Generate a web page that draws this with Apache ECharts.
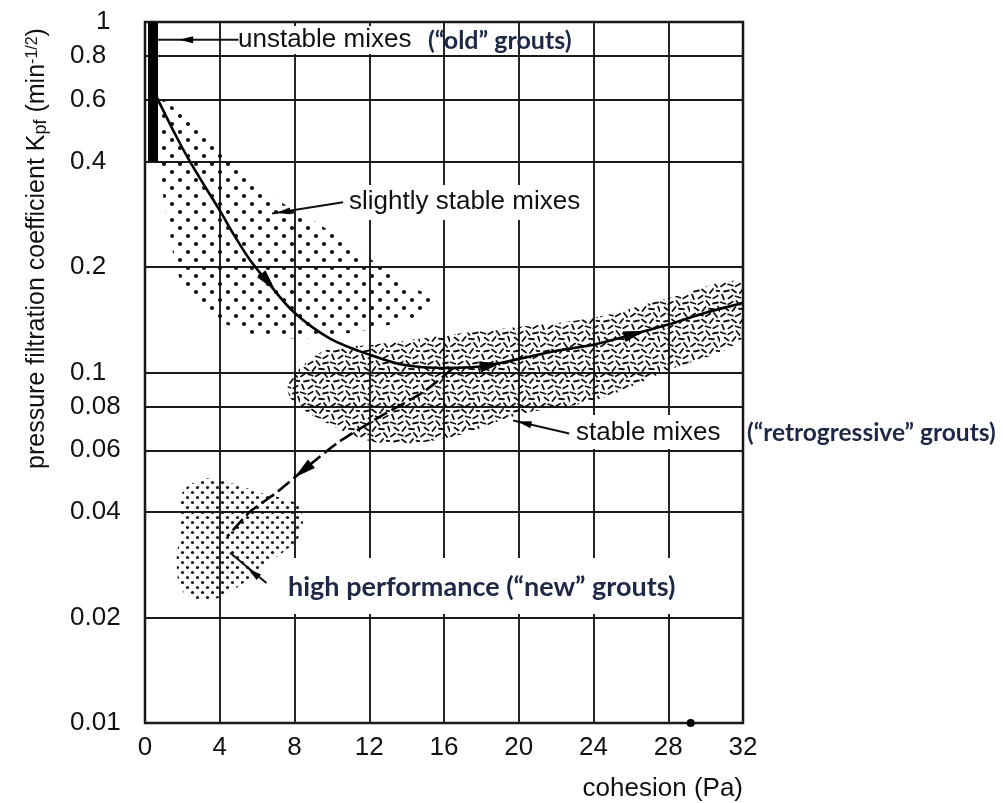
<!DOCTYPE html>
<html>
<head>
<meta charset="utf-8">
<script src="https://cdn.jsdelivr.net/npm/echarts@6/dist/echarts.min.js"></script>
<style>
html, body { margin: 0; padding: 0; background: #fff; }
#chart { width: 1003px; height: 803px; }
</style>
</head>
<body>
<div id="chart"></div>
<script>
// axis ticks
const xTicks = [0, 4, 8, 12, 16, 20, 24, 28, 32];
const yTickValues = [0.01, 0.02, 0.04, 0.06, 0.08, 0.1, 0.2, 0.4, 0.6, 0.8, 1];
const yTickLabels = ['0.01', '0.02', '0.04', '0.06', '0.08', '0.1', '0.2', '0.4', '0.6', '0.8', '1'];

// main path (solid) : unstable -> slightly stable -> stable
const mainX = [0.5, 1.6, 2.4, 3.2, 4, 4.8, 5.6, 6.6, 8, 9.9, 12.1, 13.9, 16, 17.9, 19.9, 21.9, 24, 26, 28, 30, 32];
const mainY = [0.63, 0.48, 0.40, 0.34, 0.29, 0.245, 0.21, 0.18, 0.148, 0.125, 0.112, 0.105, 0.103, 0.104, 0.109, 0.115, 0.12, 0.128, 0.137, 0.148, 0.158];

// dashed branch down to the high performance grouts
const dashX = [16.5, 14.9, 12.6, 10.3, 8.45, 7.05, 5.6, 4.4];
const dashY = [0.103, 0.088, 0.075, 0.063, 0.0525, 0.0455, 0.04, 0.034];

// unstable mixes (thick bar on the left edge)
const unstableX = [0.43, 0.43];
const unstableY = [0.4, 1];

// shaded zones, outline points
const slightX = [0.7, 2.9, 4.9, 6.9, 9.0, 12.0, 13.6, 15.4, 14.7, 11.1, 7.8, 5.1, 3.1, 1.9, 1.3, 0.8];
const slightY = [0.60, 0.49, 0.40, 0.316, 0.272, 0.212, 0.183, 0.161, 0.146, 0.130, 0.125, 0.132, 0.152, 0.183, 0.255, 0.378];
const stableX = [7.65, 8.3, 9.7, 12.2, 16.2, 20.1, 24.2, 28.2, 32, 32, 27.9, 24.0, 20.1, 16.2, 12.6, 9.9, 7.9];
const stableY = [0.092, 0.103, 0.116, 0.12, 0.128, 0.135, 0.144, 0.164, 0.18, 0.126, 0.101, 0.083, 0.076, 0.065, 0.063, 0.071, 0.083];
const highX = [2.0, 3.3, 4.7, 6.15, 8.1, 8.45, 8.1, 6.5, 4.9, 3.3, 2.0, 1.7, 1.9];
const highY = [0.0454, 0.0498, 0.0482, 0.0454, 0.0423, 0.0378, 0.0331, 0.0284, 0.0243, 0.0223, 0.0238, 0.029, 0.0354];

// arrow heads on the paths (rotation in degrees)
const arrowX = [6.6, 18.5, 26.2, 8.45];
const arrowY = [0.181, 0.105, 0.129, 0.0525];
const arrowRot = [-140, -80, -74, 129];

// leader lines of the labels
const leadUnstableX = [0.7, 5.0];
const leadUnstableY = [0.89, 0.89];
const leadSlightX = [10.6, 6.8];
const leadSlightY = [0.306, 0.284];
const leadStableX = [22.7, 19.7];
const leadStableY = [0.067, 0.073];
const leadHighX = [6.5, 4.55];
const leadHighY = [0.0251, 0.0306];
const leadArrowX = [2.2, 20.3, 5.8, 7.4];
const leadArrowY = [0.89, 0.0717, 0.0268, 0.287];
const leadArrowRot = [90, 77, 51, 99];

// stray dot on the x axis
const dotX = [29.2];
const dotY = [0.01];

const zip = (xs, ys) => xs.map((x, i) => [x, ys[i]]);

// textures for the zones
function dotPattern(size, r, pts) {
  const c = document.createElement('canvas');
  c.width = size; c.height = size;
  const g = c.getContext('2d');
  g.fillStyle = '#111';
  pts.forEach(p => { g.beginPath(); g.arc(p[0], p[1], r, 0, Math.PI * 2); g.fill(); });
  return { image: c, repeat: 'repeat' };
}
function dashPattern() {
  const size = 30;
  const c = document.createElement('canvas');
  c.width = size; c.height = size;
  const g = c.getContext('2d');
  g.strokeStyle = '#111';
  g.lineWidth = 1.8;
  g.lineCap = 'round';
  const angles = [0.3, -0.5, 0.9, -0.2, 0.6, -0.9, 0.1, 1.2, -0.6];
  let k = 0;
  for (let y = 3; y < size; y += 6) {
    for (let x = (y % 12 === 3 ? 3 : 6.5); x < size; x += 7.5) {
      const a = angles[k % angles.length];
      k++;
      const dx = Math.cos(a) * 2.5, dy = Math.sin(a) * 2.5;
      g.beginPath(); g.moveTo(x - dx, y - dy); g.lineTo(x + dx, y + dy); g.stroke();
    }
  }
  return { image: c, repeat: 'repeat' };
}

const bigDots = dotPattern(16, 2.1, [[4, 4], [12, 12]]);
const smallDots = dotPattern(10, 1.6, [[2.5, 2.5], [7.5, 7.5]]);
const dashes = dashPattern();

function zone(name, xs, ys, fill) {
  return {
    type: 'custom',
    name: name,
    silent: true,
    clip: true,
    z: 1,
    data: zip(xs, ys),
    renderItem: function (params, api) {
      if (params.dataIndex !== 0) return null;
      const pts = xs.map((x, i) => api.coord([x, ys[i]]));
      return {
        type: 'polygon',
        shape: { points: pts, smooth: 0.35 },
        style: { fill: fill, stroke: null }
      };
    }
  };
}

function leader(xs, ys) {
  return {
    type: 'line', data: zip(xs, ys), symbol: 'none', silent: true, z: 4,
    lineStyle: { color: '#111', width: 2 }
  };
}

const arrowPath = 'path://M0,0 L5,18 L-5,18 Z';
const labelFont = 'Liberation Sans, Arial, sans-serif';
const navy = '#1f2747';

const chart = echarts.init(document.getElementById('chart'));
chart.setOption({
  backgroundColor: '#fff',
  animation: false,
  grid: { left: 145, right: 260, top: 22, bottom: 80, show: true, borderColor: '#111', borderWidth: 2.5 },
  xAxis: {
    type: 'value', min: 0, max: 32, interval: 4,
    name: 'cohesion (Pa)', nameLocation: 'end', nameGap: 0, nameMoveOverlap: false,
    nameTextStyle: { fontFamily: labelFont, fontSize: 26, color: '#111', align: 'right', verticalAlign: 'top', padding: [53, 0, 0, 0] },
    axisLine: { show: false },
    axisTick: { show: false },
    axisLabel: { fontFamily: labelFont, fontSize: 26, color: '#111', margin: 12 },
    splitLine: { show: true, lineStyle: { color: '#1a1a1a', width: 1.9 } }
  },
  yAxis: {
    type: 'log', logBase: 10, min: 0.01, max: 1,
    name: 'pressure filtration coefficient K{sub|pf} (min{sup|-1/2})',
    nameLocation: 'middle', nameGap: 95, nameRotate: 90,
    nameTextStyle: {
      fontFamily: labelFont, fontSize: 25, color: '#111', padding: [0, 0, 0, 248],
      rich: {
        sub: { fontFamily: labelFont, fontSize: 18, color: '#111', verticalAlign: 'bottom', lineHeight: 16 },
        sup: { fontFamily: labelFont, fontSize: 16, color: '#111', verticalAlign: 'top', lineHeight: 14 }
      }
    },
    axisLine: { show: false },
    axisTick: { show: false, customValues: yTickValues },
    axisLabel: {
      customValues: yTickValues,
      fontFamily: labelFont, fontSize: 26, color: '#111', align: 'left', margin: 75,
      formatter: function (v) {
        const i = yTickValues.findIndex(t => Math.abs(t - v) / t < 1e-6);
        if (i < 0) return '';
        return i === yTickValues.length - 1 ? '{one|' + yTickLabels[i] + '}' : yTickLabels[i];
      },
      rich: { one: { fontFamily: labelFont, fontSize: 26, color: '#111', padding: [0, 0, 0, 26] } }
    },
    splitLine: { show: true, lineStyle: { color: '#1a1a1a', width: 1.9 } }
  },
  graphic: [
    // white boxes behind the labels that cut the grid
    { type: 'rect', z: 1, shape: { x: 236, y: 26, width: 180, height: 28 }, style: { fill: '#fff' } },
    { type: 'rect', z: 1, shape: { x: 345, y: 185, width: 240, height: 35 }, style: { fill: '#fff' } },
    { type: 'rect', z: 1, shape: { x: 572, y: 415, width: 168, height: 34 }, style: { fill: '#fff' } },
    { type: 'rect', z: 1, shape: { x: 285, y: 558, width: 455, height: 56 }, style: { fill: '#fff' } },
    { type: 'text', z: 10, x: 238, y: 40, style: { text: 'unstable mixes', font: '26px ' + labelFont, fill: '#111', verticalAlign: 'middle' } },
    { type: 'text', z: 10, x: 428, y: 41, style: { text: '(\u201cold\u201d grouts)', font: 'bold 25px Lato, sans-serif', fill: navy, verticalAlign: 'middle' } },
    { type: 'text', z: 10, x: 349, y: 202, style: { text: 'slightly stable mixes', font: '26px ' + labelFont, fill: '#111', verticalAlign: 'middle' } },
    { type: 'text', z: 10, x: 576, y: 433, style: { text: 'stable mixes', font: '26px ' + labelFont, fill: '#111', verticalAlign: 'middle' } },
    { type: 'text', z: 10, x: 747, y: 433, style: { text: '(\u201cretrogressive\u201d grouts)', font: 'bold 24.5px Lato, sans-serif', fill: navy, verticalAlign: 'middle' } },
    { type: 'text', z: 10, x: 288, y: 587, style: { text: 'high performance (\u201cnew\u201d grouts)', font: 'bold 27px Lato, sans-serif', fill: navy, verticalAlign: 'middle' } }
  ],
  series: [
    zone('slightly stable mixes', slightX, slightY, bigDots),
    zone('stable mixes', stableX, stableY, dashes),
    zone('high performance', highX, highY, smallDots),
    {
      type: 'line', name: 'unstable mixes', data: zip(unstableX, unstableY), symbol: 'none', silent: true, z: 5,
      lineStyle: { color: '#000', width: 10, cap: 'butt' }
    },
    {
      type: 'line', name: 'path', data: zip(mainX, mainY), smooth: 0.3, symbol: 'none', silent: true, z: 5,
      lineStyle: { color: '#000', width: 2.6 }
    },
    {
      type: 'line', name: 'branch', data: zip(dashX, dashY), smooth: 0.2, symbol: 'none', silent: true, z: 5,
      lineStyle: { color: '#000', width: 2.6, type: [15, 5] }
    },
    {
      type: 'scatter', name: 'arrows', silent: true, z: 6,
      data: arrowX.map((x, i) => ({ value: [x, arrowY[i]], symbolRotate: arrowRot[i] })),
      symbol: arrowPath, symbolSize: [11, 22], itemStyle: { color: '#000', opacity: 1 }
    },
    leader(leadUnstableX, leadUnstableY),
    leader(leadSlightX, leadSlightY),
    leader(leadStableX, leadStableY),
    leader(leadHighX, leadHighY),
    {
      type: 'scatter', name: 'leader arrows', silent: true, z: 6,
      data: leadArrowX.map((x, i) => ({ value: [x, leadArrowY[i]], symbolRotate: leadArrowRot[i] })),
      symbol: arrowPath, symbolSize: [7, 14], itemStyle: { color: '#000', opacity: 1 }
    },
    {
      type: 'scatter', name: 'dot', silent: true, z: 6, data: zip(dotX, dotY),
      symbol: 'circle', symbolSize: 8, itemStyle: { color: '#000', opacity: 1 }
    }
  ]
});
</script>
</body>
</html>
